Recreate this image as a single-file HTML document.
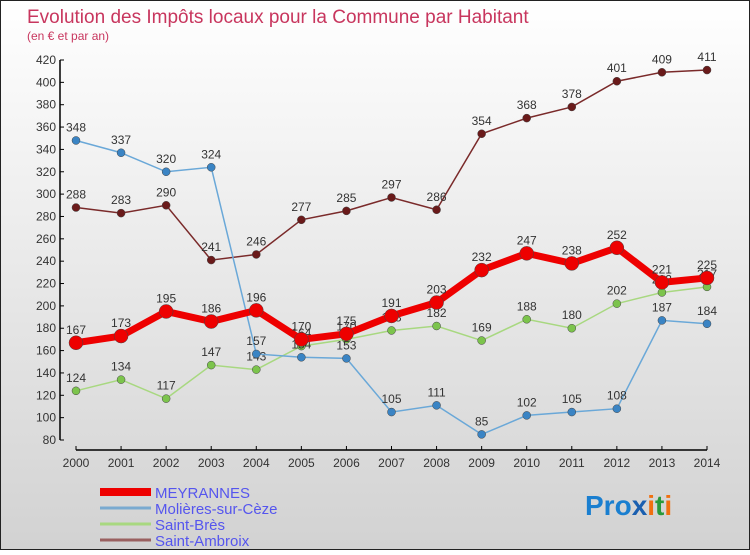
<!DOCTYPE html>
<html><head><meta charset="utf-8"><style>
html,body{margin:0;padding:0}
body{width:750px;height:550px;overflow:hidden;font-family:"Liberation Sans",sans-serif}
svg text{font-family:"Liberation Sans",sans-serif}
</style></head><body>
<svg id="chart" width="750" height="550">
<defs><linearGradient id="bg" x1="0" y1="0" x2="0" y2="1"><stop offset="0" stop-color="#ffffff"/><stop offset="1" stop-color="#d2d2d2"/></linearGradient></defs>
<rect x="0.5" y="0.5" width="749" height="549" fill="url(#bg)" stroke="#222"/>
<text x="27" y="23" font-size="19" fill="#c8365e">Evolution des Impôts locaux pour la Commune par Habitant</text>
<text x="27" y="40" font-size="12" fill="#c8365e">(en € et par an)</text>
<g id="axes"></g><g id="series"></g>
<g id="legend"></g>
<text x="585" y="515" font-size="28" font-weight="bold"><tspan fill="#1a7fd0">Pro</tspan><tspan fill="#1a5fb0">x</tspan><tspan fill="#f07010">i</tspan><tspan fill="#2a9a3a">t</tspan><tspan fill="#f07010">i</tspan></text>
</svg>
<script>
const years=[2000,2001,2002,2003,2004,2005,2006,2007,2008,2009,2010,2011,2012,2013,2014];
const yTicks=[80,100,120,140,160,180,200,220,240,260,280,300,320,340,360,380,400,420];
const meyrannes=[167,173,195,186,196,170,175,191,203,232,247,238,252,221,225];
const molieres=[348,337,320,324,157,154,153,105,111,85,102,105,108,187,184];
const saintBres=[124,134,117,147,143,164,170,178,182,169,188,180,202,212,217];
const saintAmbroix=[288,283,290,241,246,277,285,297,286,354,368,378,401,409,411];
const NS="http://www.w3.org/2000/svg";
function xs(i){return 76+i*(707-76)/(years.length-1);}
function ys(v){return 440-(v-80)*(380/340);}
function mk(tag,attrs,parent){const e=document.createElementNS(NS,tag);for(const k in attrs)e.setAttribute(k,attrs[k]);parent.appendChild(e);return e;}
const ax=document.getElementById('axes');
let l=mk('line',{x1:60,y1:ys(420),x2:60,y2:ys(80),stroke:'#000','stroke-width':1.5},ax);


l=mk('line',{x1:76,y1:450,x2:707,y2:450,stroke:'#000','stroke-width':1.5},ax);


yTicks.forEach(v=>{
 mk('line',{x1:60,y1:ys(v),x2:64,y2:ys(v),stroke:'#000'},ax);
 const t=mk('text',{x:56,y:ys(v)+4,'font-size':12,fill:'#333','text-anchor':'end'},ax);t.textContent=v;
 
 
});
years.forEach((y,i)=>{
 mk('line',{x1:xs(i),y1:446,x2:xs(i),y2:450,stroke:'#000'},ax);
 const t=mk('text',{x:xs(i),y:467,'font-size':12,fill:'#333','text-anchor':'middle'},ax);t.textContent=y;
 
 
});
const sg=document.getElementById('series');
const defs=[
 {name:'saint-ambroix',data:saintAmbroix,c:'#7a2a2a',p:'#6a1a1a',w:1.5,r:4},
 {name:'saint-bres',data:saintBres,c:'#a8d880',p:'#7cc44c',w:1.5,r:4},
 {name:'molieres-sur-ceze',data:molieres,c:'#6aa8d8',p:'#3a84c4',w:1.5,r:4},
 {name:'meyrannes',data:meyrannes,c:'#ee0000',p:'#ee0000',w:7,r:7}
];
defs.forEach(s=>{
 const g=mk('g',{},sg);
 
 
 const pl=mk('polyline',{points:s.data.map((v,i)=>xs(i)+','+ys(v)).join(' '),fill:'none',stroke:s.c,'stroke-width':s.w},g);
 
 
 s.data.forEach((v,i)=>{
  const c=mk('circle',{cx:xs(i),cy:ys(v),r:s.r,fill:s.p,stroke:'#444','stroke-width':0.5},g);
  
  
  const t=mk('text',{x:xs(i),y:ys(v)-9,'font-size':12,fill:'#333','text-anchor':'middle'},g);t.textContent=v;
  
  
 });
});
const lg=document.getElementById('legend');
const leg=[['MEYRANNES','#ee0000',8],['Molières-sur-Cèze','#7aaad0',3],['Saint-Brès','#a8d880',3],['Saint-Ambroix','#9a6060',3]];
leg.forEach((e,i)=>{
 const y=492+i*16;
 const g=mk('g',{},lg);
 
 
 mk('line',{x1:100,y1:y,x2:151,y2:y,stroke:e[1],'stroke-width':e[2]},g);
 const t=mk('text',{x:155,y:y+6,'font-size':15,fill:'#5555ee'},g);t.textContent=e[0];
});
</script>
</body></html>
